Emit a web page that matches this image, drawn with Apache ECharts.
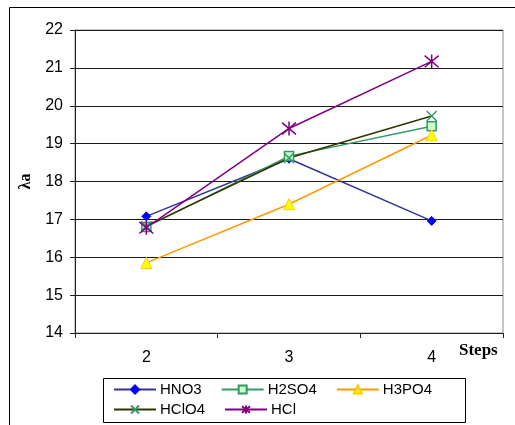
<!DOCTYPE html>
<html>
<head>
<meta charset="utf-8">
<script src="https://cdn.jsdelivr.net/npm/echarts@6/dist/echarts.min.js"></script>
<style>html,body{margin:0;padding:0;background:#fff;}#c{width:515px;height:425px;}</style>
</head>
<body>
<div id="c"></div>
<script>
var categories = ['2', '3', '4'];
var HNO3 = [17.08, 18.6, 16.96];
var H2SO4 = [16.8, 18.67, 19.46];
var H3PO4 = [15.85, 17.4, 19.22];
var HClO4 = [16.82, 18.62, 19.73];
var HCl = [16.78, 19.4, 21.17];
var yTicks = [14, 15, 16, 17, 18, 19, 20, 21, 22];

var xPath = 'path://M0,0L10,10M10,0L0,10';
var starPath = 'path://M0,0L10,10M10,0L0,10M5,-1L5,11';

var chart = echarts.init(document.getElementById('c'), null, {renderer: 'canvas'});
var font = 'Liberation Sans, Arial, sans-serif';
function legendCfg(top, names) {
  return {
    left: 113, top: top, padding: 0, itemGap: 19, itemWidth: 42, itemHeight: 10,
    data: names,
    textStyle: {fontFamily: font, fontSize: 15, color: '#000', width: 60, padding: [0, 0, 0, -1]},
    selectedMode: false
  };
}
chart.setOption({
  animation: false,
  grid: {left: 75, right: 12, top: 30, bottom: 92, show: true, borderColor: '#8c8c8c', borderWidth: 1},
  legend: [legendCfg(382, ['HNO3', 'H2SO4', 'H3PO4']), legendCfg(402, ['HClO4', 'HCl'])],
  graphic: [
    {type: 'line', shape: {x1: 9.5, y1: 7.5, x2: 515, y2: 7.5}, style: {stroke: '#000', lineWidth: 1}},
    {type: 'line', shape: {x1: 9.5, y1: 7.5, x2: 9.5, y2: 425}, style: {stroke: '#000', lineWidth: 1}},
    {type: 'rect', shape: {x: 103.5, y: 378.5, width: 362, height: 44}, style: {fill: 'none', stroke: '#000', lineWidth: 1}, z: -1},
    {type: 'text', left: 459, top: 342, style: {text: 'Steps', font: 'bold 17px "Liberation Serif", "Times New Roman", serif', fill: '#000'}}
  ],
  xAxis: {
    type: 'category', data: categories, boundaryGap: true,
    axisLine: {lineStyle: {color: '#222', width: 1}},
    axisTick: {show: true, length: 5, lineStyle: {color: '#222'}},
    axisLabel: {margin: 17, fontFamily: font, fontSize: 16, color: '#000'},
    splitLine: {show: false}
  },
  yAxis: {
    type: 'value', min: 14, max: 22, interval: 1,
    name: 'λa', nameLocation: 'middle', nameGap: 40, nameRotate: 90,
    nameTextStyle: {fontFamily: '"Liberation Serif", "Times New Roman", serif', fontSize: 16, fontWeight: 'bold', color: '#000'},
    axisLine: {show: true, lineStyle: {color: '#222', width: 1}},
    axisTick: {show: true, length: 5, lineStyle: {color: '#222'}},
    axisLabel: {margin: 12, fontFamily: font, fontSize: 16, color: '#000',
      formatter: function (v) { return yTicks.indexOf(v) >= 0 ? String(v) : ''; }},
    splitLine: {show: true, lineStyle: {color: '#1a1a1a', width: 1}}
  },
  series: [
    {name: 'HNO3', type: 'line', data: HNO3, symbol: 'diamond', symbolSize: 9,
      lineStyle: {color: '#333399', width: 1.5}, itemStyle: {color: '#0000ff', borderColor: '#0000ff', borderWidth: 1}},
    {name: 'H2SO4', type: 'line', data: H2SO4, symbol: 'rect', symbolSize: 9,
      lineStyle: {color: '#339966', width: 1.5}, itemStyle: {color: '#ccffcc', borderColor: '#339966', borderWidth: 1.5}},
    {name: 'H3PO4', type: 'line', data: H3PO4, symbol: 'triangle', symbolSize: 11,
      lineStyle: {color: '#ff9900', width: 1.5}, itemStyle: {color: '#ffff00', borderColor: '#ffcc00', borderWidth: 1}},
    {name: 'HClO4', type: 'line', data: HClO4, symbol: xPath, symbolSize: 10,
      lineStyle: {color: '#333300', width: 1.5}, itemStyle: {color: '#339966', borderColor: '#339966', borderWidth: 1.5}},
    {name: 'HCl', type: 'line', data: HCl, symbol: starPath, symbolSize: 14,
      lineStyle: {color: '#800080', width: 1.5}, itemStyle: {color: '#800080', borderColor: '#800080', borderWidth: 1.5}}
  ]
});
</script>
</body>
</html>
